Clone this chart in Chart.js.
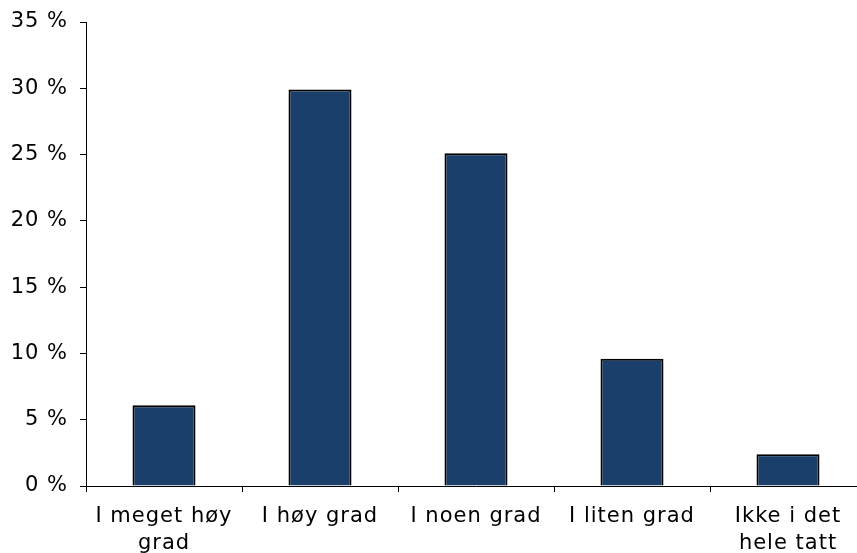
<!DOCTYPE html>
<html>
<head>
<meta charset="utf-8">
<script src="https://cdn.jsdelivr.net/npm/chart.js@4"></script>
<style>
  html, body { margin: 0; padding: 0; background: #fff; overflow: hidden; }
  #wrap { position: relative; width: 880px; height: 553px; }
</style>
</head>
<body>
<div id="wrap"><canvas id="chart"></canvas></div>
<script>
// kategorier og andeler (prosent)
const categories = [
    "I meget høy grad",
    "I høy grad",
    "I noen grad",
    "I liten grad",
    "Ikke i det hele tatt"
];
const categoryLines = [
    ["I meget høy", "grad"],
    ["I høy grad"],
    ["I noen grad"],
    ["I liten grad"],
    ["Ikke i det", "hele tatt"]
];
const shares = [6.1, 29.9, 25.1, 9.6, 2.4];
const yTicks = [0, 5, 10, 15, 20, 25, 30, 35];

// litt ekstra bokstavavstand, som Verdana-lignende tekst
const spacingPlugin = {
    id: "letterSpacing",
    beforeLayout(chart) { chart.ctx.letterSpacing = "1px"; },
    beforeDraw(chart) { chart.ctx.letterSpacing = "1px"; }
};

const fontSpec = { family: "'DejaVu Sans', Verdana, sans-serif", size: 21, lineHeight: 1.29 };

new Chart(document.getElementById("chart"), {
    type: "bar",
    data: {
        labels: categoryLines,
        datasets: [{
            label: "Andel",
            data: shares,
            backgroundColor: "#1a3f6b",
            borderColor: "#000",
            borderWidth: 2,
            borderSkipped: "bottom",
            barPercentage: 0.404,
            categoryPercentage: 1
        }]
    },
    options: {
        responsive: true,
        maintainAspectRatio: false,
        animation: false,
        layout: { padding: { top: 22, right: 14, left: 0, bottom: 0 } },
        plugins: {
            legend: { display: false },
            tooltip: { enabled: false }
        },
        scales: {
            x: {
                grid: { display: true, drawOnChartArea: false, drawTicks: true, tickLength: 6, tickColor: "#000", offset: true },
                border: { color: "#000", width: 1 },
                ticks: { color: "#000", font: fontSpec, padding: 11, maxRotation: 0, autoSkip: false },
                afterFit(scale) { scale.height = 67; }
            },
            y: {
                min: 0,
                max: 35,
                afterBuildTicks(scale) { scale.ticks = yTicks.map(v => ({ value: v })); },
                grid: { display: true, drawOnChartArea: false, drawTicks: true, tickLength: 6, tickColor: "#000" },
                border: { color: "#000", width: 1 },
                ticks: {
                    color: "#000",
                    font: fontSpec,
                    padding: 12,
                    callback: v => v + " %"
                },
                afterFit(scale) {
                    scale.width = 86;
                    scale.paddingTop = 0;
                    scale.paddingBottom = 0;
                }
            }
        }
    },
    plugins: [spacingPlugin]
});
</script>
</body>
</html>
